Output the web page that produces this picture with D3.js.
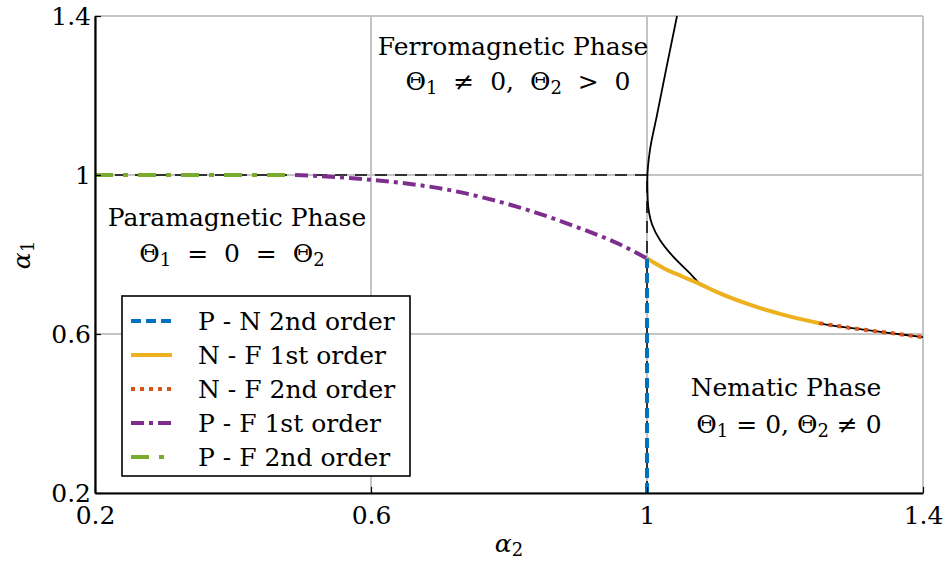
<!DOCTYPE html>
<html><head><meta charset="utf-8">
<script src="https://cdn.jsdelivr.net/npm/d3@7"></script>
<style>
body{margin:0;background:#fff}
text{fill:#000}
</style>
</head><body><svg id="c" width="945" height="561"></svg>
<script>
// ---------- data ----------
const xTicks = [0.2, 0.6, 1, 1.4];
const yTicks = [0.2, 0.6, 1, 1.4];
const xTickLabels = ["0.2", "0.6", "1", "1.4"];
const yTickLabels = ["0.2", "0.6", "1", "1.4"];

// P - N 2nd order (blue dashed)
const pnX = [1.0, 1.0];
const pnY = [0.2, 0.79];
// N - F 1st order (yellow solid)
const nf1X = [1.0, 1.025, 1.052, 1.08, 1.1, 1.15, 1.198, 1.25];
const nf1Y = [0.79, 0.765, 0.744, 0.723, 0.7065, 0.673, 0.648, 0.627];
// N - F 2nd order (orange dotted)
const nf2X = [1.25, 1.3, 1.35, 1.4];
const nf2Y = [0.627, 0.614, 0.603, 0.592];
// P - F 1st order (purple dash-dot)
const pf1X = [0.49, 0.6, 0.714, 0.816, 0.903, 0.961, 1.0];
const pf1Y = [1.0, 0.988, 0.962, 0.918, 0.866, 0.825, 0.79];
// P - F 2nd order (green dash-dot)
const pf2X = [0.2, 0.49];
const pf2Y = [1.0, 1.0];
// black solid boundary curve
const bkX = [1.0435, 1.0285, 1.014, 1.0043, 1.0005, 1.001, 1.003, 1.0075, 1.0188, 1.038, 1.0623, 1.08, 1.1, 1.15, 1.198, 1.25, 1.3, 1.35, 1.4];
const bkY = [1.4, 1.2725, 1.147, 1.063, 0.99, 0.94, 0.905, 0.875, 0.8365, 0.7945, 0.7527, 0.723, 0.7065, 0.673, 0.648, 0.627, 0.614, 0.603, 0.592];
// black dashed guides
const hDashX = [0.2, 1.0], hDashY = [1.0, 1.0];
const vDashX = [1.0, 1.0], vDashY = [0.2, 1.0];

const legendLabels = ["P - N 2nd order", "N - F 1st order", "N - F 2nd order", "P - F 1st order", "P - F 2nd order"];
const colors = {blue:"#0072BD", yellow:"#EDB120", orange:"#D95319", purple:"#7E2F8E", green:"#77AC30"};

// ---------- chart ----------
const FONT = '"DejaVu Serif","Liberation Serif","Times New Roman",serif';
const svg = d3.select("#c");
const L = 95, R = 923, T = 16, B = 493;
const x = d3.scaleLinear().domain([0.2, 1.4]).range([L, R]);
const y = d3.scaleLinear().domain([0.2, 1.4]).range([B, T]);
const FS = 25;

// grid
const grid = svg.append("g").attr("stroke", "#c4c4c4").attr("stroke-width", 2);
xTicks.forEach(v => grid.append("line").attr("x1", x(v)).attr("x2", x(v)).attr("y1", T).attr("y2", B));
yTicks.forEach(v => grid.append("line").attr("y1", y(v)).attr("y2", y(v)).attr("x1", L).attr("x2", R));

const line = (xs, ys, curve) => d3.line().x(d => x(d[0])).y(d => y(d[1])).curve(curve || d3.curveLinear)(xs.map((v, i) => [v, ys[i]]));

const plot = svg.append("g");
plot.append("path").attr("d", line(hDashX, hDashY)).attr("fill", "none").attr("stroke", "#000").attr("stroke-width", 1.5).attr("stroke-dasharray", "12,8");
plot.append("path").attr("d", line(vDashX, vDashY)).attr("fill", "none").attr("stroke", "#000").attr("stroke-width", 1.5).attr("stroke-dasharray", "12,8");
plot.append("path").attr("d", line(bkX, bkY, d3.curveMonotoneY)).attr("fill", "none").attr("stroke", "#000").attr("stroke-width", 1.8);

const series = [
  {xs: pf2X, ys: pf2Y, c: colors.green, w: 4, dash: "18,10,5,10"},
  {xs: pf1X, ys: pf1Y, c: colors.purple, w: 4, dash: "13,5,4,5", curve: d3.curveMonotoneX},
  {xs: nf1X, ys: nf1Y, c: colors.yellow, w: 4, dash: null, curve: d3.curveMonotoneX},
  {xs: nf2X, ys: nf2Y, c: colors.orange, w: 4, dash: "4,5", curve: d3.curveMonotoneX},
  {xs: pnX, ys: pnY, c: colors.blue, w: 4, dash: "10,5"}
];
series.forEach(s => {
  plot.append("path").attr("d", line(s.xs, s.ys, s.curve)).attr("fill", "none")
    .attr("stroke", s.c).attr("stroke-width", s.w).attr("stroke-dasharray", s.dash);
});

// axes
const xAxis = d3.axisBottom(x).tickValues(xTicks).tickFormat((d, i) => xTickLabels[i]).tickSizeInner(-6).tickSizeOuter(0).tickPadding(13);
const yAxis = d3.axisLeft(y).tickValues(yTicks).tickFormat((d, i) => yTickLabels[i]).tickSizeInner(-6).tickSizeOuter(0).tickPadding(4);
const gx = svg.append("g").attr("transform", `translate(0,${B})`).call(xAxis);
const gy = svg.append("g").attr("transform", `translate(${L},0)`).call(yAxis);
[gx, gy].forEach(g => {
  g.attr("font-family", null).attr("font-size", null);
  g.select(".domain").attr("stroke", "#000").attr("stroke-width", 2.2);
  g.selectAll(".tick line").attr("stroke", "#000").attr("stroke-width", 1.2);
  g.selectAll(".tick text").style("font-size", FS + "px").style("font-family", FONT).attr("fill", "#000");
});
gy.selectAll(".tick text").attr("dy", "0.32em");

function rich(x0, y0, segs, size, anchor, rotate) {
  const t = svg.append("text").attr("x", x0).attr("y", y0).attr("text-anchor", anchor || "middle")
    .style("font-size", size + "px").style("font-family", FONT).style("white-space", "pre");
  if (rotate) t.attr("transform", `rotate(${rotate},${x0},${y0})`);
  segs.forEach(s => {
    const ts = t.append("tspan").text(s.t);
    if (s.sub) ts.attr("baseline-shift", "-22%").style("font-size", (size * 0.72) + "px");
    if (s.it) ts.style("font-style", "italic");
  });
  return t;
}

// axis labels
rich(509, 552, [{t: "α", it: true}, {t: "2", sub: true}], FS, "middle");
rich(30, 255, [{t: "α", it: true}, {t: "1", sub: true}], FS, "middle", -90);

// annotations
rich(513, 55, [{t: "Ferromagnetic Phase"}], FS, "middle");
rich(518, 90, [{t: "Θ"}, {t: "1", sub: true}, {t: "  ≠  0,  Θ"}, {t: "2", sub: true}, {t: "  >  0"}], FS, "middle");
rich(237, 226, [{t: "Paramagnetic Phase"}], FS, "middle");
rich(232, 262, [{t: "Θ"}, {t: "1", sub: true}, {t: "  =  0  =  Θ"}, {t: "2", sub: true}], FS, "middle");
rich(786, 396, [{t: "Nematic Phase"}], FS, "middle");
rich(789, 433, [{t: "Θ"}, {t: "1", sub: true}, {t: " = 0, Θ"}, {t: "2", sub: true}, {t: " ≠ 0"}], FS, "middle");

// legend
const lg = svg.append("g");
lg.append("rect").attr("x", 122).attr("y", 296).attr("width", 288).attr("height", 180)
  .attr("fill", "#fff").attr("stroke", "#000").attr("stroke-width", 1.6);
const legSeries = [series[4], series[2], series[3], series[1], series[0]];
legendLabels.forEach((lab, i) => {
  const ry = 321 + i * 34;
  const s = legSeries[i];
  lg.append("line").attr("x1", 131).attr("x2", 172).attr("y1", ry).attr("y2", ry)
    .attr("stroke", s.c).attr("stroke-width", s.w).attr("stroke-dasharray", s.dash);
  lg.append("text").attr("x", 198).attr("y", ry + 9).style("font-size", FS + "px").style("font-family", FONT)
    .style("white-space", "pre").text(lab);
});
</script>
</body></html>
